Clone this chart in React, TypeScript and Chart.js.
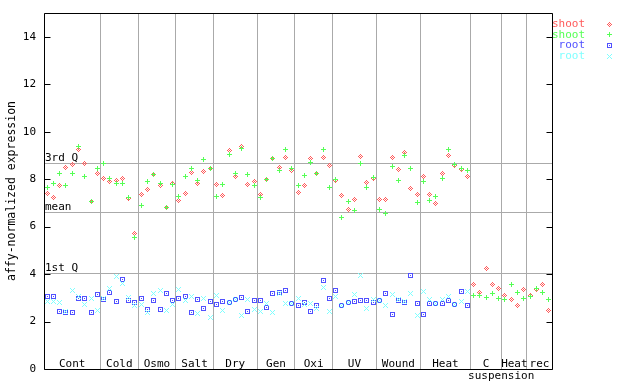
import React, { useEffect, useRef } from "react";
import { Chart, registerables } from "chart.js";

Chart.register(...registerables);

// ---------- data ----------
const groups = ["Cont", "Cold", "Osmo", "Salt", "Dry", "Gen", "Oxi", "UV", "Wound", "Heat", "C suspension", "Heat", "rec"];
const groupSizes = [9, 6, 6, 6, 7, 6, 6, 7, 7, 8, 5, 4, 4];

const shootRed = [
  7.39, 7.21, 7.73, 8.48, 8.62, 9.24, 8.65, 7.07, 8.24,
  8.03, 7.91, 7.96, 8.03, 7.19, 5.73,
  7.35, 7.56, 8.18, 7.73, 6.79, 7.82,
  7.11, 7.39, 8.27, 7.80, 8.31, 8.44,
  7.77, 7.30, 9.21, 8.10, 9.38, 7.76, 7.89,
  7.34, 7.97, 8.86, 8.48, 8.90, 8.35,
  7.42, 7.72, 8.86, 8.22, 8.90, 8.56,
  7.93, 7.30, 6.70, 7.13, 8.94, 7.85, 8.01,
  7.13, 7.13, 8.90, 8.39, 9.11, 7.59, 7.34,
  8.10, 7.34, 6.96, 8.22, 8.99, 8.56, 8.39, 8.10,
  3.54, 3.24, 4.25, 3.58, 3.41,
  3.11, 2.94, 2.69, 3.37,
  3.11, 3.37, 3.58, 2.48,
];

const shootGreen = [
  7.63, 7.82, 8.24, 7.72, 8.24, 9.38, 8.10, 7.07, 8.44,
  8.65, 8.03, 7.80, 7.80, 7.21, 5.52,
  6.89, 7.89, 8.18, 7.80, 6.79, 7.76,
  7.25, 8.10, 8.44, 7.93, 8.82, 8.44,
  7.25, 7.76, 9.03, 8.22, 9.28, 8.20, 7.72,
  7.21, 7.97, 8.86, 8.35, 9.24, 8.44,
  7.72, 8.14, 8.69, 8.22, 9.24, 7.63,
  7.97, 6.37, 7.04, 6.66, 8.65, 7.63, 8.06,
  6.70, 6.54, 8.52, 7.93, 8.99, 8.44, 7.00,
  7.89, 7.08, 7.25, 8.01, 9.24, 8.60, 8.44, 8.35,
  3.11, 3.11, 3.03, 3.20, 2.99,
  2.94, 3.58, 3.24, 2.99,
  3.07, 3.41, 3.24, 2.94,
];

const rootBlue = [
  3.04, 3.04, 2.44, 2.39, 2.37, 2.96, 2.99, 2.39, 3.13,
  2.92, 3.24, 2.86, 3.79, 2.90, 2.82,
  2.96, 2.52, 2.90, 2.52, 3.20, 2.90,
  2.99, 3.07, 2.40, 2.94, 2.56, 2.86,
  2.73, 2.86, 2.82, 2.94, 3.03, 2.44, 2.90,
  2.90, 2.61, 3.20, 3.22, 3.32, 2.78,
  2.69, 2.82, 2.44, 2.69, 3.75, 2.99,
  3.32, 2.69, 2.82, 2.86, 2.90, 2.90, 2.82,
  2.90, 3.20, 2.31, 2.90, 2.82, 3.96, 2.78,
  2.31, 2.78, 2.78, 2.78, 2.90, 2.73, 3.28, 2.66,
];

const rootCyan = [
  2.84, 2.84, 2.82, 2.42, 3.32, 3.05, 2.70, 2.96, 2.48,
  2.95, 3.40, 3.88, 3.60, 3.03, 2.66,
  2.73, 2.38, 3.17, 3.30, 2.48, 2.72,
  3.37, 2.89, 3.07, 2.35, 2.99, 2.18,
  3.11, 2.48, 2.82, 2.92, 2.27, 2.94, 2.52,
  2.44, 2.75, 2.40, 3.20, 2.78, 2.78,
  2.99, 2.73, 2.78, 2.56, 3.45, 2.44,
  3.07, 2.69, 2.82, 3.16, 3.96, 2.56, 2.94,
  2.88, 2.69, 3.16, 2.92, 2.84, 3.20, 2.27,
  3.28, 2.94, 2.78, 2.94, 3.07, 2.73, 2.86, 3.28,
];

const quartileValues = [8.68, 6.6, 4.06];
const quartileLabels = ["3rd Q", "mean", "1st Q"];
const yTicks = [0, 2, 4, 6, 8, 10, 12, 14];
const yTitle = "affy-normalized expression";
const legendLabels = ["shoot", "shoot", "root", "root"];
const seriesColors = ["#ff5a5a", "#55ff55", "#5050ff", "#80ffff"];

// ---------- marker sprites ----------
const patterns: string[][] = [
  ["..X..", ".X.X.", "X.X.X", ".X.X.", "..X.."],
  ["..X..", "..X..", "XXXXX", "..X..", "..X.."],
  ["XXXXX", "X...X", "X.X.X", "X...X", "XXXXX"],
  ["X...X", ".X.X.", "..X..", ".X.X.", "X...X"],
];

function makeMarker(pattern: string[], color: string): HTMLCanvasElement {
  const c = document.createElement("canvas");
  c.width = pattern[0].length;
  c.height = pattern.length;
  const ctx = c.getContext("2d")!;
  ctx.fillStyle = color;
  pattern.forEach((row, y) => {
    for (let x = 0; x < row.length; x++) if (row[x] === "X") ctx.fillRect(x, y, 1, 1);
  });
  return c;
}

const FONT = "11px 'DejaVu Sans Mono', monospace";
const GRID = "#aaaaaa";

export default function App() {
  const ref = useRef<HTMLCanvasElement | null>(null);

  useEffect(() => {
    document.body.style.margin = "0";
    const canvas = ref.current!;
    const markers = patterns.map((p, k) => makeMarker(p, seriesColors[k]));
    const total = groupSizes.reduce((s, v) => s + v, 0);
    const bounds: number[] = [0];
    groupSizes.forEach((s) => bounds.push(bounds[bounds.length - 1] + s));

    const toPoints = (vals: number[]) => vals.map((v, i) => ({ x: i + 0.5, y: v }));
    const seriesValues = [shootRed, shootGreen, rootBlue, rootCyan];

    const datasets = seriesValues.map((vals, k) => ({
      label: legendLabels[k],
      data: toPoints(vals),
      showLine: false,
      pointStyle: markers[k],
      pointRadius: 3,
      pointHoverRadius: 3,
      order: 4 - k,
    }));

    const decor = {
      id: "decor",
      beforeDatasetsDraw(chart: any) {
        const { ctx, chartArea: a, scales } = chart;
        const y = scales.y;
        const x = scales.x;
        ctx.save();
        ctx.strokeStyle = GRID;
        ctx.lineWidth = 1;
        ctx.font = FONT;
        ctx.fillStyle = "#000";
        quartileValues.forEach((v, k) => {
          const py = Math.round(y.getPixelForValue(v)) + 0.5;
          ctx.beginPath();
          ctx.moveTo(a.left, py);
          ctx.lineTo(a.right, py);
          ctx.stroke();
          ctx.textAlign = "left";
          ctx.textBaseline = "bottom";
          ctx.fillText(quartileLabels[k], a.left + 1, py);
        });
        // group labels
        ctx.textAlign = "center";
        ctx.textBaseline = "middle";
        groups.forEach((g, k) => {
          const cx = (x.getPixelForValue(bounds[k]) + x.getPixelForValue(bounds[k + 1])) / 2;
          const parts = g.split(" ");
          ctx.fillText(parts[0], cx, a.bottom - 5);
          if (parts[1]) ctx.fillText(parts[1], cx + 15, a.bottom + 7);
        });
        // y title
        ctx.save();
        ctx.translate(12, (a.top + a.bottom) / 2);
        ctx.rotate(-Math.PI / 2);
        ctx.font = "11.5px 'DejaVu Sans Mono', monospace";
        ctx.textAlign = "center";
        ctx.textBaseline = "middle";
        ctx.fillText(yTitle, 0, 0);
        ctx.restore();
        ctx.restore();
        ctx.imageSmoothingEnabled = false;
      },
      afterDatasetsDraw(chart: any) {
        const { ctx, chartArea: a, scales } = chart;
        const y = scales.y;
        ctx.imageSmoothingEnabled = true;
        ctx.save();
        ctx.strokeStyle = "#000";
        ctx.lineWidth = 1;
        const L = Math.round(a.left) + 0.5;
        const R = Math.round(a.right) + 0.5;
        const T = Math.round(a.top) + 0.5;
        const B = Math.round(a.bottom) + 0.5;
        ctx.beginPath();
        ctx.rect(L, T, R - L, B - T);
        ctx.stroke();
        yTicks.forEach((v) => {
          const py = Math.round(y.getPixelForValue(v)) + 0.5;
          ctx.beginPath();
          ctx.moveTo(L, py);
          ctx.lineTo(L + 6, py);
          ctx.moveTo(R, py);
          ctx.lineTo(R - 6, py);
          ctx.stroke();
        });
        // legend
        ctx.font = FONT;
        ctx.textBaseline = "middle";
        legendLabels.forEach((lab, k) => {
          const ly = 24 + k * 10.8;
          ctx.fillStyle = seriesColors[k];
          ctx.textAlign = "right";
          ctx.fillText(lab, 585, ly);
          const m = markers[k];
          ctx.drawImage(m, Math.round(609 - m.width / 2), Math.round(ly - m.height / 2));
        });
        ctx.restore();
      },
    };

    const chart = new Chart(canvas, {
      type: "scatter",
      data: { datasets: datasets as any },
      options: {
        animation: false,
        responsive: false,
        events: [],
        layout: { padding: { top: 13, right: 88, left: 0, bottom: 0 } },
        plugins: { legend: { display: false }, tooltip: { enabled: false } },
        scales: {
          x: {
            type: "linear",
            min: 0,
            max: total,
            afterBuildTicks: (s: any) => {
              s.ticks = bounds.map((v) => ({ value: v }));
            },
            afterFit: (s: any) => {
              s.height = 15;
              s.paddingLeft = 0;
              s.paddingRight = 0;
            },
            ticks: { display: false },
            grid: { color: GRID, lineWidth: 1, drawTicks: false },
            border: { display: false },
          },
          y: {
            type: "linear",
            min: 0,
            max: 15,
            afterBuildTicks: (s: any) => {
              s.ticks = yTicks.map((v) => ({ value: v }));
            },
            afterFit: (s: any) => {
              s.width = 44;
              s.paddingTop = 0;
              s.paddingBottom = 0;
            },
            ticks: {
              color: "#000",
              font: { family: "'DejaVu Sans Mono', monospace", size: 11 },
              padding: 8,
              callback: (v: any) => String(v),
            },
            grid: { display: false, drawTicks: false },
            border: { display: false },
          },
        },
      },
      plugins: [decor],
    });

    return () => chart.destroy();
  }, []);

  return <canvas ref={ref} width={640} height={384} style={{ display: "block" }} />;
}
